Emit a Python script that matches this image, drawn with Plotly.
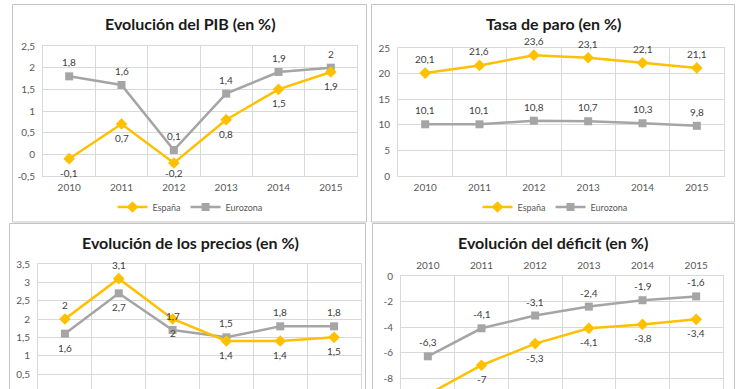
import plotly.graph_objects as go

# ---------------- data ----------------
years = ["2010", "2011", "2012", "2013", "2014", "2015"]

pib_es = [-0.1, 0.7, -0.2, 0.8, 1.5, 1.9]
pib_ez = [1.8, 1.6, 0.1, 1.4, 1.9, 2.0]

paro_es = [20.1, 21.6, 23.6, 23.1, 22.1, 21.1]
paro_ez = [10.1, 10.1, 10.8, 10.7, 10.3, 9.8]

precios_es = [2.0, 3.1, 2.0, 1.4, 1.4, 1.5]
precios_ez = [1.6, 2.7, 1.7, 1.5, 1.8, 1.8]

deficit_es = [-9.3, -7.0, -5.3, -4.1, -3.8, -3.4]
deficit_ez = [-6.3, -4.1, -3.1, -2.4, -1.9, -1.6]

pib_ticks = [-0.5, 0, 0.5, 1, 1.5, 2, 2.5]
pib_ticklabels = ["-0,5", "0", "0,5", "1", "1,5", "2", "2,5"]
paro_ticks = [0, 5, 10, 15, 20, 25]
paro_ticklabels = ["0", "5", "10", "15", "20", "25"]
precios_ticks = [0.5, 1, 1.5, 2, 2.5, 3, 3.5]
precios_ticklabels = ["0,5", "1", "1,5", "2", "2,5", "3", "3,5"]
deficit_ticks = [-10, -8, -6, -4, -2, 0]
deficit_ticklabels = ["-10", "-8", "-6", "-4", "-2", "0"]

# data label placement (+ above, - below; in units of the label gap)
pib_es_pos = [-1, -1, -0.72, -1, -1, -1]
pib_ez_pos = [1, 1, 1, 1, 1, 1]
paro_es_pos = [1, 1, 1, 1, 1, 1]
paro_ez_pos = [1, 1, 1, 1, 1, 1]
precios_es_pos = [1, 1, -1, -1, -1, -1]
precios_ez_pos = [-1, -1, 1, 1, 1, 1]
deficit_es_pos = [-1, -1, -1, -1, -1, -1]
deficit_ez_pos = [1, 1, 1, 1, 1, 1]

# ---------------- styling ----------------
W, H = 740, 389
YEL = "#FFC000"
GRY = "#A5A5A5"
GRID = "#D9D9D9"
BORDER = "#C4C4C4"
TICKC = "#595959"
LBLC = "#404040"
FONT = "Lato"
GAP = 14


def px(x):
    return x / W


def py(y):
    return 1 - y / H


def fmt(v):
    return ("%g" % v).replace(".", ",")


fig = go.Figure()

panels = [
    ("1", pib_es, pib_ez, pib_es_pos, pib_ez_pos, (43, 357), (46, 176), [-0.5, 2.5],
     pib_ticks, pib_ticklabels, "bottom", True, "legend"),
    ("2", paro_es, paro_ez, paro_es_pos, paro_ez_pos, (398, 724), (48, 176), [0, 25],
     paro_ticks, paro_ticklabels, "bottom", True, "legend2"),
    ("3", precios_es, precios_ez, precios_es_pos, precios_ez_pos, (38, 361), (264, 389),
     [3.5 - 125 / (110 / 3.0), 3.5], precios_ticks, precios_ticklabels, "bottom", False, None),
    ("4", deficit_es, deficit_ez, deficit_es_pos, deficit_ez_pos, (401, 723), (276, 389),
     [-(389 - 276) / 12.75, 0], deficit_ticks, deficit_ticklabels, "top", True, None),
]

xs = list(range(len(years)))
annotations = []

for (n, es, ez, esp, ezp, xd, yd, yr, tv, tt, side, showx, leg) in panels:
    xa = "x" if n == "1" else "x" + n
    ya = "y" if n == "1" else "y" + n
    for name, vals, col, sym, posl in (("Eurozona", ez, GRY, "square", ezp),
                                       ("España", es, YEL, "diamond", esp)):
        tr = dict(x=xs, y=vals, name=name, mode="lines+markers",
                  line=dict(color=col, width=2.5),
                  marker=dict(color=col, symbol=sym, size=8 if sym == "square" else 9),
                  xaxis=xa, yaxis=ya, hoverinfo="skip")
        if leg:
            tr["legend"] = leg
            tr["showlegend"] = True
        else:
            tr["showlegend"] = False
        fig.add_trace(go.Scatter(**tr))
        for i, v in enumerate(vals):
            annotations.append(dict(x=xs[i], y=v, xref=xa, yref=ya, text=fmt(v),
                                    showarrow=False, yshift=GAP * posl[i],
                                    font=dict(family=FONT, size=10, color=LBLC)))
    axx = dict(domain=[px(xd[0]), px(xd[1])], range=[-0.5, 5.5], anchor=ya,
               tickmode="array", tickvals=xs, ticktext=years, side=side,
               showticklabels=showx, showgrid=False, zeroline=False,
               showline=True, linecolor=GRID, mirror=True, ticks="",
               tickfont=dict(family=FONT, size=10, color=TICKC),
               minor=dict(tickmode="array", tickvals=[i - 0.5 for i in range(7)],
                          showgrid=True, gridcolor=GRID, gridwidth=1, ticks=""),
               ticklabelstandoff=2,
               automargin=False, fixedrange=True)
    axy = dict(domain=[py(yd[1]), py(yd[0])], range=yr, anchor=xa,
               tickmode="array", tickvals=tv, ticktext=tt,
               showgrid=True, gridcolor=GRID, gridwidth=1, zeroline=False,
               showline=True, linecolor=GRID, mirror=True, ticks="",
               ticklabelstandoff=5, automargin=False,
               tickfont=dict(family=FONT, size=10, color=TICKC), fixedrange=True)
    fig.update_layout(**{("xaxis" if n == "1" else "xaxis" + n): axx,
                         ("yaxis" if n == "1" else "yaxis" + n): axy})

# titles
titles = [("Evolución del PIB (en %)", 190, 23),
          ("Tasa de paro (en %)", 553, 24),
          ("Evolución de los precios (en %)", 190, 242),
          ("Evolución del déficit (en %)", 553, 242)]
for t, cx, cy in titles:
    annotations.append(dict(x=px(cx), y=py(cy), xref="paper", yref="paper", text="<b>%s</b>" % t,
                            showarrow=False, xanchor="center", yanchor="middle",
                            font=dict(family=FONT, size=16, color="#1a1a1a")))

# panel borders
shapes = []
for x0, y0, x1, y1 in [(12.5, 4.5, 366.5, 222), (371.5, 4.5, 734.5, 222),
                       (9.5, 223.5, 365.5, 400), (372.5, 223.5, 734.5, 400)]:
    shapes.append(dict(type="rect", xref="paper", yref="paper",
                       x0=px(x0), x1=px(x1), y0=py(y1), y1=py(y0),
                       line=dict(color=BORDER, width=1), fillcolor="rgba(0,0,0,0)", layer="below"))

legend_common = dict(orientation="h", xanchor="center", yanchor="middle",
                     bgcolor="rgba(0,0,0,0)", font=dict(family=FONT, size=9, color=TICKC),
                     itemwidth=30, traceorder="reversed")

fig.update_layout(
    width=W, height=H, autosize=False,
    margin=dict(l=0, r=0, t=0, b=0, autoexpand=False),
    paper_bgcolor="white", plot_bgcolor="white",
    annotations=annotations, shapes=shapes,
    legend=dict(x=px(190), y=py(207), **legend_common),
    legend2=dict(x=px(555), y=py(207), **legend_common),
    font=dict(family=FONT),
)

fig.write_html("out.html",
               config={"displayModeBar": False, "staticPlot": True},
               post_script="document.body.style.margin='0px';document.body.style.overflow='hidden';")
